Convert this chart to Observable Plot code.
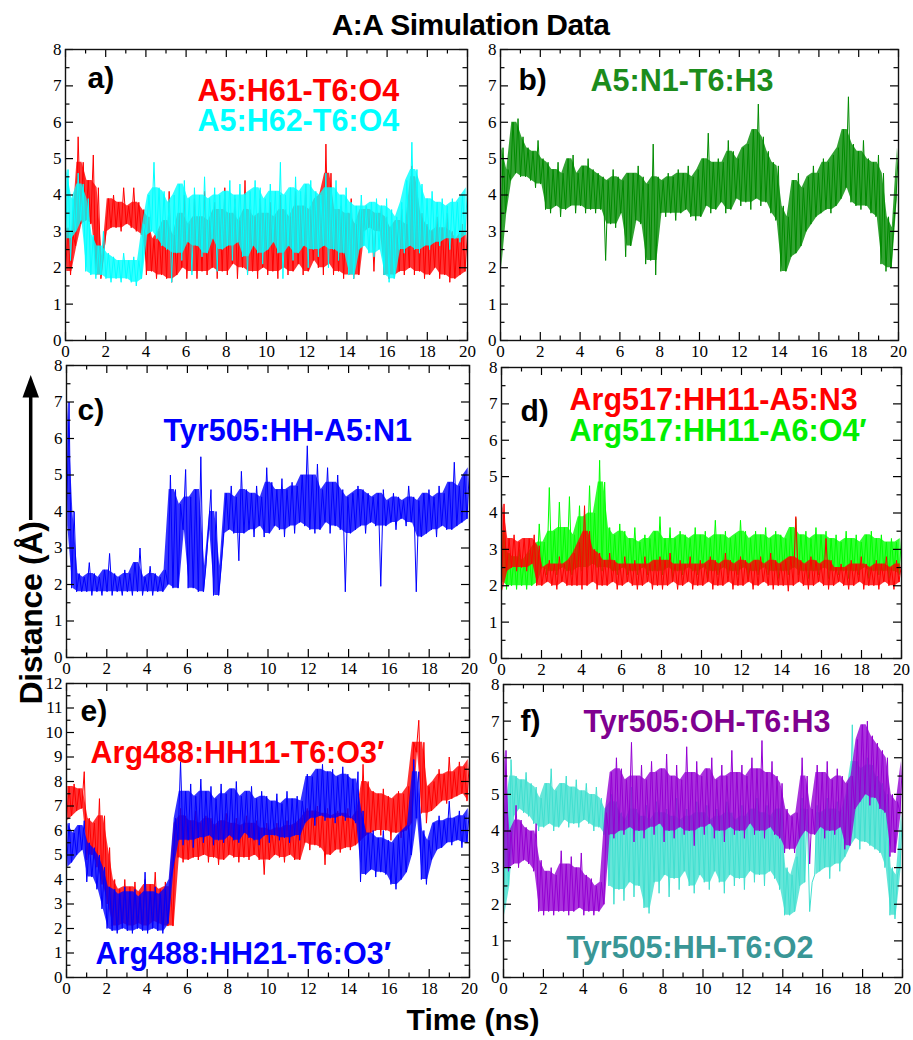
<!DOCTYPE html>
<html><head><meta charset="utf-8">
<script src="https://cdn.jsdelivr.net/npm/d3@7"></script>
<script src="https://cdn.jsdelivr.net/npm/@observablehq/plot@0.6"></script>
<style>
html,body{margin:0;padding:0;background:#fff}
#root{position:relative;width:913px;height:1040px;overflow:hidden;background:#fff}
.t{position:absolute;font-family:"Liberation Sans",Arial,Helvetica,sans-serif;font-weight:bold;color:#000;white-space:nowrap;line-height:1}
#root svg{position:absolute;max-width:none}
</style></head>
<body><div id="root"></div>
<script>
// ---------------- data (per 0.25 ns window: low / high of the trace) ----------------
const xMajor = [0, 2, 4, 6, 8, 10, 12, 14, 16, 18, 20];
const xMinor = [1, 3, 5, 7, 9, 11, 13, 15, 17, 19];

// a) A5:H61-T6:O4 (red), A5:H62-T6:O4 (cyan)
const aRedLo = [1.9,1.8,2.6,3.2,3.3,3.2,1.8,1.7,3.0,3.1, 3.1,3.0,3.2,3.1,3.0,2.9,1.8,1.9,1.7,1.8, 1.7,1.6,1.8,2.0,1.7,1.9,1.7,1.9,1.8,2.0, 1.7,1.9,1.8,2.1,1.7,2.0,1.8,1.9,1.7,2.0, 1.8,1.9,1.7,2.0,1.8,1.9,2.1,1.8,1.9,2.2, 2.0,1.8,2.1,1.8,1.9,1.7,1.8,1.7,1.8,3.0, 3.1,1.9,3.0,1.8,1.7,1.8,1.9,1.8,2.0,1.8, 1.9,1.7,1.8,2.0,1.7,1.8,1.6,1.7,1.8,1.9];
const aRedHi = [3.1,2.9,5.6,4.9,4.4,5.1,4.2,2.3,3.9,4.0, 3.8,4.2,3.7,4.2,3.8,3.6,3.4,2.8,3.0,3.3, 4.1,2.9,3.5,4.0,3.2,3.9,3.4,4.1,3.3,3.8, 3.6,4.2,3.5,3.9,3.3,4.4,3.6,3.4,3.9,3.5, 3.8,3.4,4.0,3.6,3.4,4.1,3.7,4.3,3.6,3.9, 4.0,5.4,4.6,3.6,3.7,3.5,3.9,3.2,3.6,3.7, 3.6,3.5,3.7,3.4,3.1,3.3,3.6,3.2,4.8,4.5, 3.5,3.2,3.0,3.4,3.1,3.5,3.0,2.8,3.2,3.0];
const aCyanLo = [2.8,2.2,3.0,3.3,1.9,1.8,1.7,1.8,1.7,1.6, 1.7,1.6,1.7,1.6,1.5,1.7,2.9,3.0,2.8,2.6, 2.5,1.6,2.4,2.2,2.7,1.8,2.6,2.3,2.4,2.8, 1.9,2.5,2.6,2.2,2.7,2.3,1.8,2.6,2.4,2.1, 2.5,2.7,2.4,1.7,2.6,2.2,2.4,2.6,2.0,2.5, 2.3,2.6,2.0,2.5,2.2,2.4,1.8,1.7,2.5,2.6, 2.4,2.3,2.5,1.8,1.6,1.7,2.5,2.4,2.6,2.5, 2.4,2.6,2.5,2.7,2.6,2.8,2.5,2.8,2.7,2.9];
const aCyanHi = [4.7,3.9,4.6,4.3,3.9,2.9,2.6,3.0,2.4,2.3, 2.2,2.4,2.2,2.3,2.2,3.2,4.0,4.9,4.2,4.1, 3.8,4.0,4.3,4.4,3.9,4.2,4.0,4.5,3.9,4.2, 4.0,4.1,4.4,4.0,4.3,4.0,4.1,4.4,4.2,3.9, 4.3,4.1,4.9,4.0,4.2,4.5,4.1,4.3,4.4,4.1, 4.0,4.6,4.2,4.4,4.0,4.2,3.8,3.7,4.0,3.7, 3.8,3.9,3.7,3.9,3.6,3.4,3.8,4.4,5.45,4.7, 4.3,3.9,4.1,3.8,3.9,3.7,3.9,3.8,4.0,4.2];

// b) A5:N1-T6:H3 (green)
const bGreenLo = [2.0,3.5,4.4,4.6,4.5,4.5,4.4,4.2,4.3,3.6, 3.5,3.7,3.4,3.6,3.7,3.5,3.7,3.5,3.6,3.5, 3.6,2.2,3.2,3.1,3.5,2.3,2.6,3.3,3.2,2.1, 2.2,1.8,3.5,3.4,3.5,3.3,3.5,3.6,3.4,3.3, 3.4,3.7,3.5,3.6,3.8,3.5,3.6,3.9,3.7,3.8, 3.6,3.9,3.7,3.8,3.5,3.3,1.9,1.9,2.3,2.4, 2.6,3.0,3.2,3.4,3.5,3.6,3.5,3.7,3.9,4.2, 3.8,3.7,3.6,3.7,3.5,3.4,2.1,1.9,2.0,3.9];
const bGreenHi = [5.3,4.7,6.0,6.1,5.6,5.3,5.2,5.5,5.0,4.9, 4.7,4.9,4.6,5.0,5.1,4.6,4.8,5.0,4.7,4.6, 4.5,4.4,4.7,4.5,4.4,4.6,4.6,4.8,4.5,4.3, 5.4,4.5,4.4,4.6,4.5,4.7,4.6,4.8,4.5,4.7, 5.0,5.7,4.9,5.0,4.9,5.5,5.2,5.0,5.3,5.4, 5.8,6.5,5.6,5.2,4.9,4.8,3.7,3.4,4.4,4.6, 4.2,4.5,4.8,4.6,5.0,4.9,5.1,5.3,5.8,6.7, 5.4,5.2,5.5,5.0,4.9,5.1,4.6,3.4,3.1,5.3];

// c) Tyr505:HH-A5:N1 (blue)
const cBlueLo = [3.6,1.9,1.8,1.8,1.8,1.7,1.8,1.7,1.8,1.7, 1.8,1.7,1.8,1.7,1.8,1.7,1.8,1.7,1.8,1.8, 2.0,1.9,1.9,3.5,1.9,1.9,1.8,1.8,3.5,1.7, 1.7,3.4,3.5,3.4,2.65,3.4,3.5,3.3,3.6,3.3, 3.4,3.6,3.5,3.3,3.6,3.4,3.7,3.6,3.5,3.4, 3.5,3.7,3.4,3.6,3.5,1.8,3.4,3.5,3.6,3.4, 3.7,3.6,1.95,3.6,3.7,3.5,3.8,3.6,3.7,1.8, 3.3,3.4,3.5,3.3,3.6,3.5,3.5,3.6,3.7,3.8];
const cBlueHi = [7.0,4.0,2.3,2.2,2.6,2.3,2.2,2.4,2.85,2.3, 2.2,2.4,2.3,2.6,3.0,2.2,2.5,2.3,2.2,2.4, 5.0,4.6,4.2,5.15,4.4,4.6,5.5,2.5,4.6,4.0, 2.5,4.5,4.7,4.4,5.1,4.6,4.5,4.7,4.4,5.2, 4.8,4.6,4.9,4.6,4.8,4.7,5.0,5.8,5.0,5.3, 4.6,5.2,4.8,5.0,4.6,4.4,4.5,4.7,4.6,4.5, 4.4,4.5,4.6,4.3,4.5,4.4,4.3,4.7,4.4,4.3, 4.5,4.6,4.4,4.7,4.5,4.8,5.35,4.7,5.0,5.2];

// d) Arg517:HH11-A5:N3 (red), Arg517:HH11-A6:O4' (green)
const dRedLo = [1.85,2.4,2.5,2.4,2.5,2.4,2.6,2.0,2.0,2.1, 2.0,1.9,2.1,2.0,2.0,2.0,1.9,2.0,2.1,1.9, 2.0,2.0,2.1,1.9,2.0,2.1,2.0,1.9,2.0,2.1, 1.9,2.0,1.9,2.0,2.1,1.9,2.0,2.1,1.9,2.0, 2.0,2.1,1.9,2.0,2.0,2.1,1.9,2.0,2.0,2.1, 1.9,2.0,2.1,2.0,1.9,2.0,2.0,1.85,2.0,2.1, 2.0,1.9,2.0,2.1,2.0,1.9,2.0,2.1,2.0,1.9, 2.0,2.1,1.9,2.0,2.0,1.9,2.1,2.0,1.9,2.1];
const dRedHi = [4.25,3.3,3.4,3.2,3.3,3.3,3.4,3.1,2.5,2.7, 2.6,2.8,2.6,2.7,2.9,3.2,4.2,3.5,3.0,2.9, 2.7,2.9,2.7,2.6,2.8,2.6,2.7,2.6,2.8,2.6, 2.7,2.8,2.7,2.9,2.6,2.7,2.6,2.8,2.6,2.7, 2.6,2.8,2.7,2.6,2.9,2.7,2.6,2.8,2.7,2.6, 2.7,2.8,2.6,2.9,2.7,2.6,2.7,2.8,3.9,2.7, 2.6,2.8,2.7,2.6,3.3,2.7,2.5,2.6,2.5,2.7, 2.6,2.8,2.6,2.5,2.7,2.6,2.8,2.5,2.7,2.6];
const dGreenLo = [2.1,1.9,2.0,1.9,2.0,1.9,2.0,2.1,2.5,2.3, 2.4,2.3,2.5,2.4,2.3,2.5,2.4,2.5,2.6,2.5, 2.4,2.5,2.4,2.3,2.5,2.3,2.4,2.3,2.5,2.3, 2.4,2.4,2.3,2.5,2.2,2.4,2.3,2.5,2.4,2.3, 2.5,2.2,2.4,2.3,2.5,2.3,2.4,2.3,2.5,2.2, 2.4,2.3,2.5,2.3,2.4,2.2,2.4,2.3,2.5,2.3, 2.4,2.2,2.4,2.3,2.5,2.2,2.4,2.3,2.4,2.2, 2.4,2.3,2.5,2.2,2.4,2.3,2.4,2.2,2.4,2.3];
const dGreenHi = [3.5,2.9,2.8,3.0,2.7,2.9,3.1,3.7,3.2,4.7, 3.5,4.3,3.6,4.45,3.4,4.2,3.9,4.75,4.0,5.45, 4.85,3.6,3.4,3.7,3.5,3.3,3.6,3.2,3.4,3.3, 3.5,3.9,3.3,3.6,3.3,3.5,3.4,3.3,3.6,3.4, 3.5,3.3,3.8,3.4,3.5,3.3,3.4,3.8,3.5,3.3, 3.5,3.4,3.6,3.3,3.5,3.4,3.3,3.6,3.85,3.4, 3.5,3.3,3.6,3.4,3.5,3.3,3.4,3.2,3.5,3.3, 3.4,3.2,3.4,3.5,3.3,3.4,3.2,3.3,3.2,3.3];

// e) Arg488:HH11-T6:O3' (red), Arg488:HH21-T6:O3' (blue)
const eRedLo = [6.4,6.6,6.8,6.9,4.8,5.0,4.5,3.8,3.0,2.1, 2.0,2.2,2.1,2.0,2.2,2.1,2.0,2.3,2.2,2.0, 2.1,2.1,4.9,4.7,4.8,4.9,4.8,5.0,4.7,4.9, 4.6,4.8,5.0,4.9,4.7,4.9,4.8,5.0,4.8,4.2, 4.8,5.0,4.9,4.7,5.0,4.8,4.8,5.5,5.2,5.4, 5.3,4.6,5.0,5.2,5.1,5.3,5.2,5.4,5.6,5.8, 5.9,6.0,5.8,6.0,5.6,5.9,5.7,6.0,6.3,9.2, 6.7,6.3,6.8,7.0,7.2,7.1,7.3,7.4,7.5,7.2];
const eRedHi = [7.8,7.9,7.7,8.4,6.5,6.3,7.3,6.6,5.3,4.0, 3.6,4.0,3.7,3.9,3.5,4.0,3.8,4.3,3.6,3.9, 3.7,6.3,6.9,6.6,6.4,6.8,6.3,6.6,6.5,6.2, 6.4,6.7,6.3,6.5,6.2,6.6,6.3,6.4,6.1,6.3, 6.0,6.3,6.1,6.4,6.2,6.3,6.5,6.9,6.8,7.0, 6.7,6.9,6.6,6.8,6.7,6.9,6.5,6.8,8.7,8.0, 7.6,7.5,7.7,7.4,7.3,7.6,7.5,7.8,9.6,10.5, 9.6,7.8,8.0,8.5,8.3,9.0,8.4,8.8,8.6,8.9];
const eBlueLo = [4.5,4.7,5.0,5.2,3.9,4.1,3.6,2.8,2.0,1.9, 1.8,2.0,1.9,1.8,2.0,1.9,1.8,2.0,1.9,1.8, 2.2,4.5,5.6,5.4,5.6,5.3,5.7,5.5,5.8,5.4, 5.6,5.5,5.8,5.6,5.5,5.9,5.7,5.6,5.4,5.8, 5.5,5.8,5.6,5.7,5.5,5.8,5.6,6.3,6.5,6.2, 6.6,6.4,6.5,6.3,6.6,6.4,6.5,6.3,3.9,4.2, 4.4,4.1,4.3,4.2,3.8,3.6,4.0,4.3,5.0,6.5, 4.0,3.8,4.8,5.2,5.3,5.5,5.4,5.6,5.3,5.5];
const eBlueHi = [6.3,5.9,6.2,6.4,5.5,5.3,5.0,4.5,3.7,3.6, 3.4,3.7,3.5,3.6,3.3,4.3,3.5,3.7,3.4,3.6, 4.0,6.5,8.8,7.6,7.9,7.4,8.1,7.6,7.8,7.3, 7.9,7.5,7.7,8.0,7.4,7.6,7.8,7.3,7.6,7.4, 7.2,7.5,7.1,7.6,7.3,7.4,7.2,8.3,8.2,8.5, 8.7,8.4,8.5,8.2,8.6,8.3,8.1,8.4,6.8,5.9, 6.0,5.7,6.0,5.6,5.5,5.8,6.0,6.2,8.9,8.4, 6.0,5.6,6.3,6.6,6.4,7.2,6.5,6.8,6.6,6.9];

// f) Tyr505:OH-T6:H3 (violet), Tyr505:HH-T6:O2 (turquoise)
const fVioletLo = [3.0,2.9,3.1,3.0,3.2,3.1,2.9,1.8,1.7,1.8, 1.7,1.8,1.8,1.7,1.8,1.9,1.7,1.8,1.7,1.8, 2.0,3.9,3.8,4.0,3.9,4.1,3.7,4.0,3.8,4.1, 3.9,4.2,3.7,4.0,3.8,4.1,3.9,4.0,3.6,4.1, 3.9,4.2,3.8,4.0,3.7,4.1,3.9,4.0,3.8,4.2, 3.9,4.0,3.8,4.1,3.9,3.8,3.4,3.5,3.4,3.8, 4.0,3.1,3.9,4.1,3.8,4.0,3.9,4.1,3.5,3.6, 4.6,4.8,5.0,4.7,4.9,4.6,4.5,3.3,3.4,4.5];
const fVioletHi = [6.2,4.0,4.7,4.3,4.1,4.0,4.2,3.2,2.9,3.0, 2.8,3.46,3.1,3.3,3.0,3.4,2.8,2.7,2.5,2.6, 4.5,5.6,6.0,5.7,5.4,6.42,5.5,5.8,5.4,5.9, 5.6,5.7,6.1,5.5,5.8,5.4,6.3,5.6,5.9,5.5, 5.7,6.0,5.4,5.8,5.5,6.2,5.6,5.8,5.5,6.0, 5.7,6.47,5.6,5.9,5.5,5.3,4.6,4.4,4.5,6.0, 5.5,4.6,5.8,5.6,5.9,5.4,5.7,5.5,5.3,5.5, 6.5,6.9,7.0,6.6,6.4,6.2,6.0,5.0,4.8,5.9];
const fTurqLo = [1.7,2.5,4.4,4.6,4.5,4.4,4.2,4.0,4.1,4.2, 4.0,4.1,4.3,4.1,4.2,4.1,4.3,4.2,4.0,4.1, 3.9,2.5,2.0,2.4,2.1,2.6,2.2,2.5,1.9,1.75, 2.6,2.3,2.8,2.2,2.7,2.4,2.9,2.5,2.3,2.8, 2.6,2.4,2.9,2.6,2.3,2.8,2.5,2.7,2.4,2.9, 2.6,2.8,2.5,2.9,2.7,2.4,1.7,1.7,1.8,2.5, 2.6,1.8,2.8,2.9,3.0,2.7,3.1,2.9,3.3,3.6, 3.8,3.5,3.7,3.6,3.5,3.4,3.0,1.7,1.6,3.0];
const fTurqHi = [4.5,5.95,5.5,5.4,5.6,5.3,5.2,4.9,5.3,5.7, 5.1,5.3,5.5,5.2,5.4,5.1,5.3,5.0,5.2,4.9, 4.6,5.0,4.8,4.5,4.3,5.2,4.6,4.4,4.7,4.3, 4.8,4.5,4.6,4.4,4.9,4.3,4.6,4.4,4.8,4.5, 4.7,4.3,4.6,4.4,4.8,4.5,4.3,4.7,4.4,4.6, 4.9,4.5,4.7,4.4,4.6,4.8,3.0,2.8,3.3,4.9, 4.6,2.6,4.7,4.5,4.9,4.6,4.8,4.5,5.0,6.9, 5.9,5.7,6.0,5.8,5.5,5.3,5.0,3.0,2.8,4.5];

const panelLetters = ["a)", "b)", "c)", "d)", "e)", "f)"];
const seriesNames = {
  a: ["A5:H61-T6:O4", "A5:H62-T6:O4"],
  b: ["A5:N1-T6:H3"],
  c: ["Tyr505:HH-A5:N1"],
  d: ["Arg517:HH11-A5:N3", "Arg517:HH11-A6:O4\u2032"],
  e: ["Arg488:HH11-T6:O3\u2032", "Arg488:HH21-T6:O3\u2032"],
  f: ["Tyr505:OH-T6:H3", "Tyr505:HH-T6:O2"]
};
const chartTitle = "A:A Simulation Data";
const xTitle = "Time (ns)";
const yTitle = "Distance (\u00C5)";

// ---------------- drawing ----------------
const SANS = "Liberation Sans, Arial, Helvetica, sans-serif";
const SERIF = "Liberation Serif, Times New Roman, serif";

// the trace: alternating window low / high samples
function trace(lo, hi) {
  const n = lo.length, step = 20 / (2 * n - 1), pts = [];
  for (let i = 0; i < n; i++) {
    pts.push({t: 2 * i * step, v: lo[i]});
    pts.push({t: (2 * i + 1) * step, v: hi[i]});
  }
  return pts;
}
// the dense body of the trace: median of each window with its neighbours (isolated spikes left to the line)
function core(lo, hi) {
  const n = lo.length, step = 20 / (2 * n - 1), pts = [];
  const med3 = (arr, i) => d3.median([arr[Math.max(i - 1, 0)], arr[i], arr[Math.min(i + 1, n - 1)]]);
  for (let i = 0; i < n; i++) {
    const a = Math.max(med3(lo, i), lo[i]);
    const b = Math.min(med3(hi, i), hi[i]);
    const ok = b > a;
    pts.push({t: (2 * i + 0.5) * step, y1: ok ? a : NaN, y2: ok ? b : NaN});
  }
  return pts;
}

const panels = [
  {frame: [65, 49, 402, 291], ymax: 8, letter: [22, 38],
   series: [{lo: aRedLo, hi: aRedHi, color: "#ff0000"}, {lo: aCyanLo, hi: aCyanHi, color: "#00ffff"}],
   labels: [{text: seriesNames.a[0], color: "#ff0000", dx: 132, dy: 51}, {text: seriesNames.a[1], color: "#00ffff", dx: 132, dy: 81}]},
  {frame: [500, 49, 398, 291], ymax: 8, letter: [18, 40],
   series: [{lo: bGreenLo, hi: bGreenHi, color: "#008b00"}],
   labels: [{text: seriesNames.b[0], color: "#1c8c1c", dx: 90, dy: 41}]},
  {frame: [66, 365, 403, 292], ymax: 8, letter: [11, 54],
   series: [{lo: cBlueLo, hi: cBlueHi, color: "#0000ff"}],
   labels: [{text: seriesNames.c[0], color: "#0000ff", dx: 97, dy: 75}]},
  {frame: [501, 367, 400, 291], ymax: 8, letter: [19, 53],
   series: [{lo: dGreenLo, hi: dGreenHi, color: "#00ff00"}, {lo: dRedLo, hi: dRedHi, color: "#ff0000"}],
   labels: [{text: seriesNames.d[0], color: "#ff0000", dx: 68, dy: 42}, {text: seriesNames.d[1], color: "#00ee00", dx: 68, dy: 73}]},
  {frame: [66, 683, 403, 294], ymax: 12, letter: [14, 37],
   series: [{lo: eRedLo, hi: eRedHi, color: "#ff0000"}, {lo: eBlueLo, hi: eBlueHi, color: "#0000ff"}],
   labels: [{text: seriesNames.e[0], color: "#ff0000", dx: 24, dy: 79}, {text: seriesNames.e[1], color: "#0000ff", dx: 29, dy: 280}]},
  {frame: [503, 684, 399, 293], ymax: 8, letter: [17, 46],
   series: [{lo: fTurqLo, hi: fTurqHi, color: "#40e0d0"}, {lo: fVioletLo, hi: fVioletHi, color: "#9400d3"}],
   labels: [{text: seriesNames.f[0], color: "#800090", dx: 80, dy: 47}, {text: seriesNames.f[1], color: "#399696", dx: 63, dy: 273}]}
];

const root = document.getElementById("root");

panels.forEach((p, k) => {
  const [fx, fy, fw, fh] = p.frame;
  const mL = 40, mR = 18, mT = 12, mB = 28;
  const yMajor = d3.range(0, p.ymax + 1);
  const yMinor = d3.range(0.5, p.ymax, 1);
  const labelText = (txt, opts) => Plot.text([txt], {
    text: d => d, frameAnchor: "top-left", lineAnchor: "bottom", textAnchor: "start",
    fontSize: 30.5, fontWeight: "bold", fontFamily: SANS, ...opts
  });
  const seriesMarks = p.series.flatMap(s => [
    Plot.areaY(core(s.lo, s.hi), {x: "t", y1: "y1", y2: "y2", fill: s.color, fillOpacity: 0.8}),
    Plot.line(trace(s.lo, s.hi), {x: "t", y: "v", stroke: s.color, strokeWidth: 1})
  ]);
  const svg = Plot.plot({
    width: fw + mL + mR, height: fh + mT + mB,
    marginLeft: mL, marginRight: mR, marginTop: mT, marginBottom: mB,
    x: {domain: [0, 20], label: null},
    y: {domain: [0, p.ymax], label: null},
    style: {fontFamily: SERIF, fontSize: "17px", color: "#000", background: "none", overflow: "visible"},
    marks: [
      ...seriesMarks,
      Plot.tickX(xMajor, {x: d => d, insetTop: fh - 8, stroke: "#000", strokeWidth: 1.2}),
      Plot.tickX(xMajor, {x: d => d, insetBottom: fh - 8, stroke: "#000", strokeWidth: 1.2}),
      Plot.tickX(xMinor, {x: d => d, insetTop: fh - 4.5, stroke: "#000", strokeWidth: 1.2}),
      Plot.tickX(xMinor, {x: d => d, insetBottom: fh - 4.5, stroke: "#000", strokeWidth: 1.2}),
      Plot.tickY(yMajor, {y: d => d, insetRight: fw - 8, stroke: "#000", strokeWidth: 1.2}),
      Plot.tickY(yMajor, {y: d => d, insetLeft: fw - 8, stroke: "#000", strokeWidth: 1.2}),
      Plot.tickY(yMinor, {y: d => d, insetRight: fw - 4.5, stroke: "#000", strokeWidth: 1.2}),
      Plot.tickY(yMinor, {y: d => d, insetLeft: fw - 4.5, stroke: "#000", strokeWidth: 1.2}),
      Plot.frame({stroke: "#111", strokeWidth: 1.4}),
      Plot.axisX(xMajor, {tickSize: 0, tickPadding: 4, label: null, fontSize: 17}),
      Plot.axisY(yMajor, {tickSize: 0, tickPadding: 4, label: null, fontSize: 17}),
      labelText(panelLetters[k], {fill: "#000", dx: p.letter[0], dy: p.letter[1], fontSize: 30}),
      ...p.labels.map(l => labelText(l.text, {fill: l.color, dx: l.dx, dy: l.dy}))
    ]
  });
  svg.style.left = (fx - mL) + "px";
  svg.style.top = (fy - mT) + "px";
  root.appendChild(svg);
});

// titles
function addText(txt, css) {
  const d = document.createElement("div");
  d.className = "t";
  d.textContent = txt;
  Object.assign(d.style, css);
  root.appendChild(d);
  return d;
}
addText(chartTitle, {left: "470.5px", top: "12px", fontSize: "30px", letterSpacing: "-0.5px", lineHeight: "0.85", transform: "translateX(-50%)"});
addText(xTitle, {left: "473px", top: "1004.6px", fontSize: "30px", transform: "translateX(-50%)"});
addText(yTitle, {left: (31 - 150) + "px", width: "300px", textAlign: "center", top: (613 - 16) + "px", fontSize: "32px", letterSpacing: "-0.3px", transform: "rotate(-90deg)", transformOrigin: "150px 16px"});

// arrow next to the y title
const NS = "http://www.w3.org/2000/svg";
const arrow = document.createElementNS(NS, "svg");
arrow.setAttribute("width", "60"); arrow.setAttribute("height", "160");
arrow.style.left = "0px"; arrow.style.top = "370px";
arrow.innerHTML = '<line x1="30.7" y1="150" x2="30.7" y2="24" stroke="#000" stroke-width="3.5"/><polygon points="22.5,27.5 39,27.5 30.7,5" fill="#000"/>';
root.appendChild(arrow);
</script>
</body></html>
